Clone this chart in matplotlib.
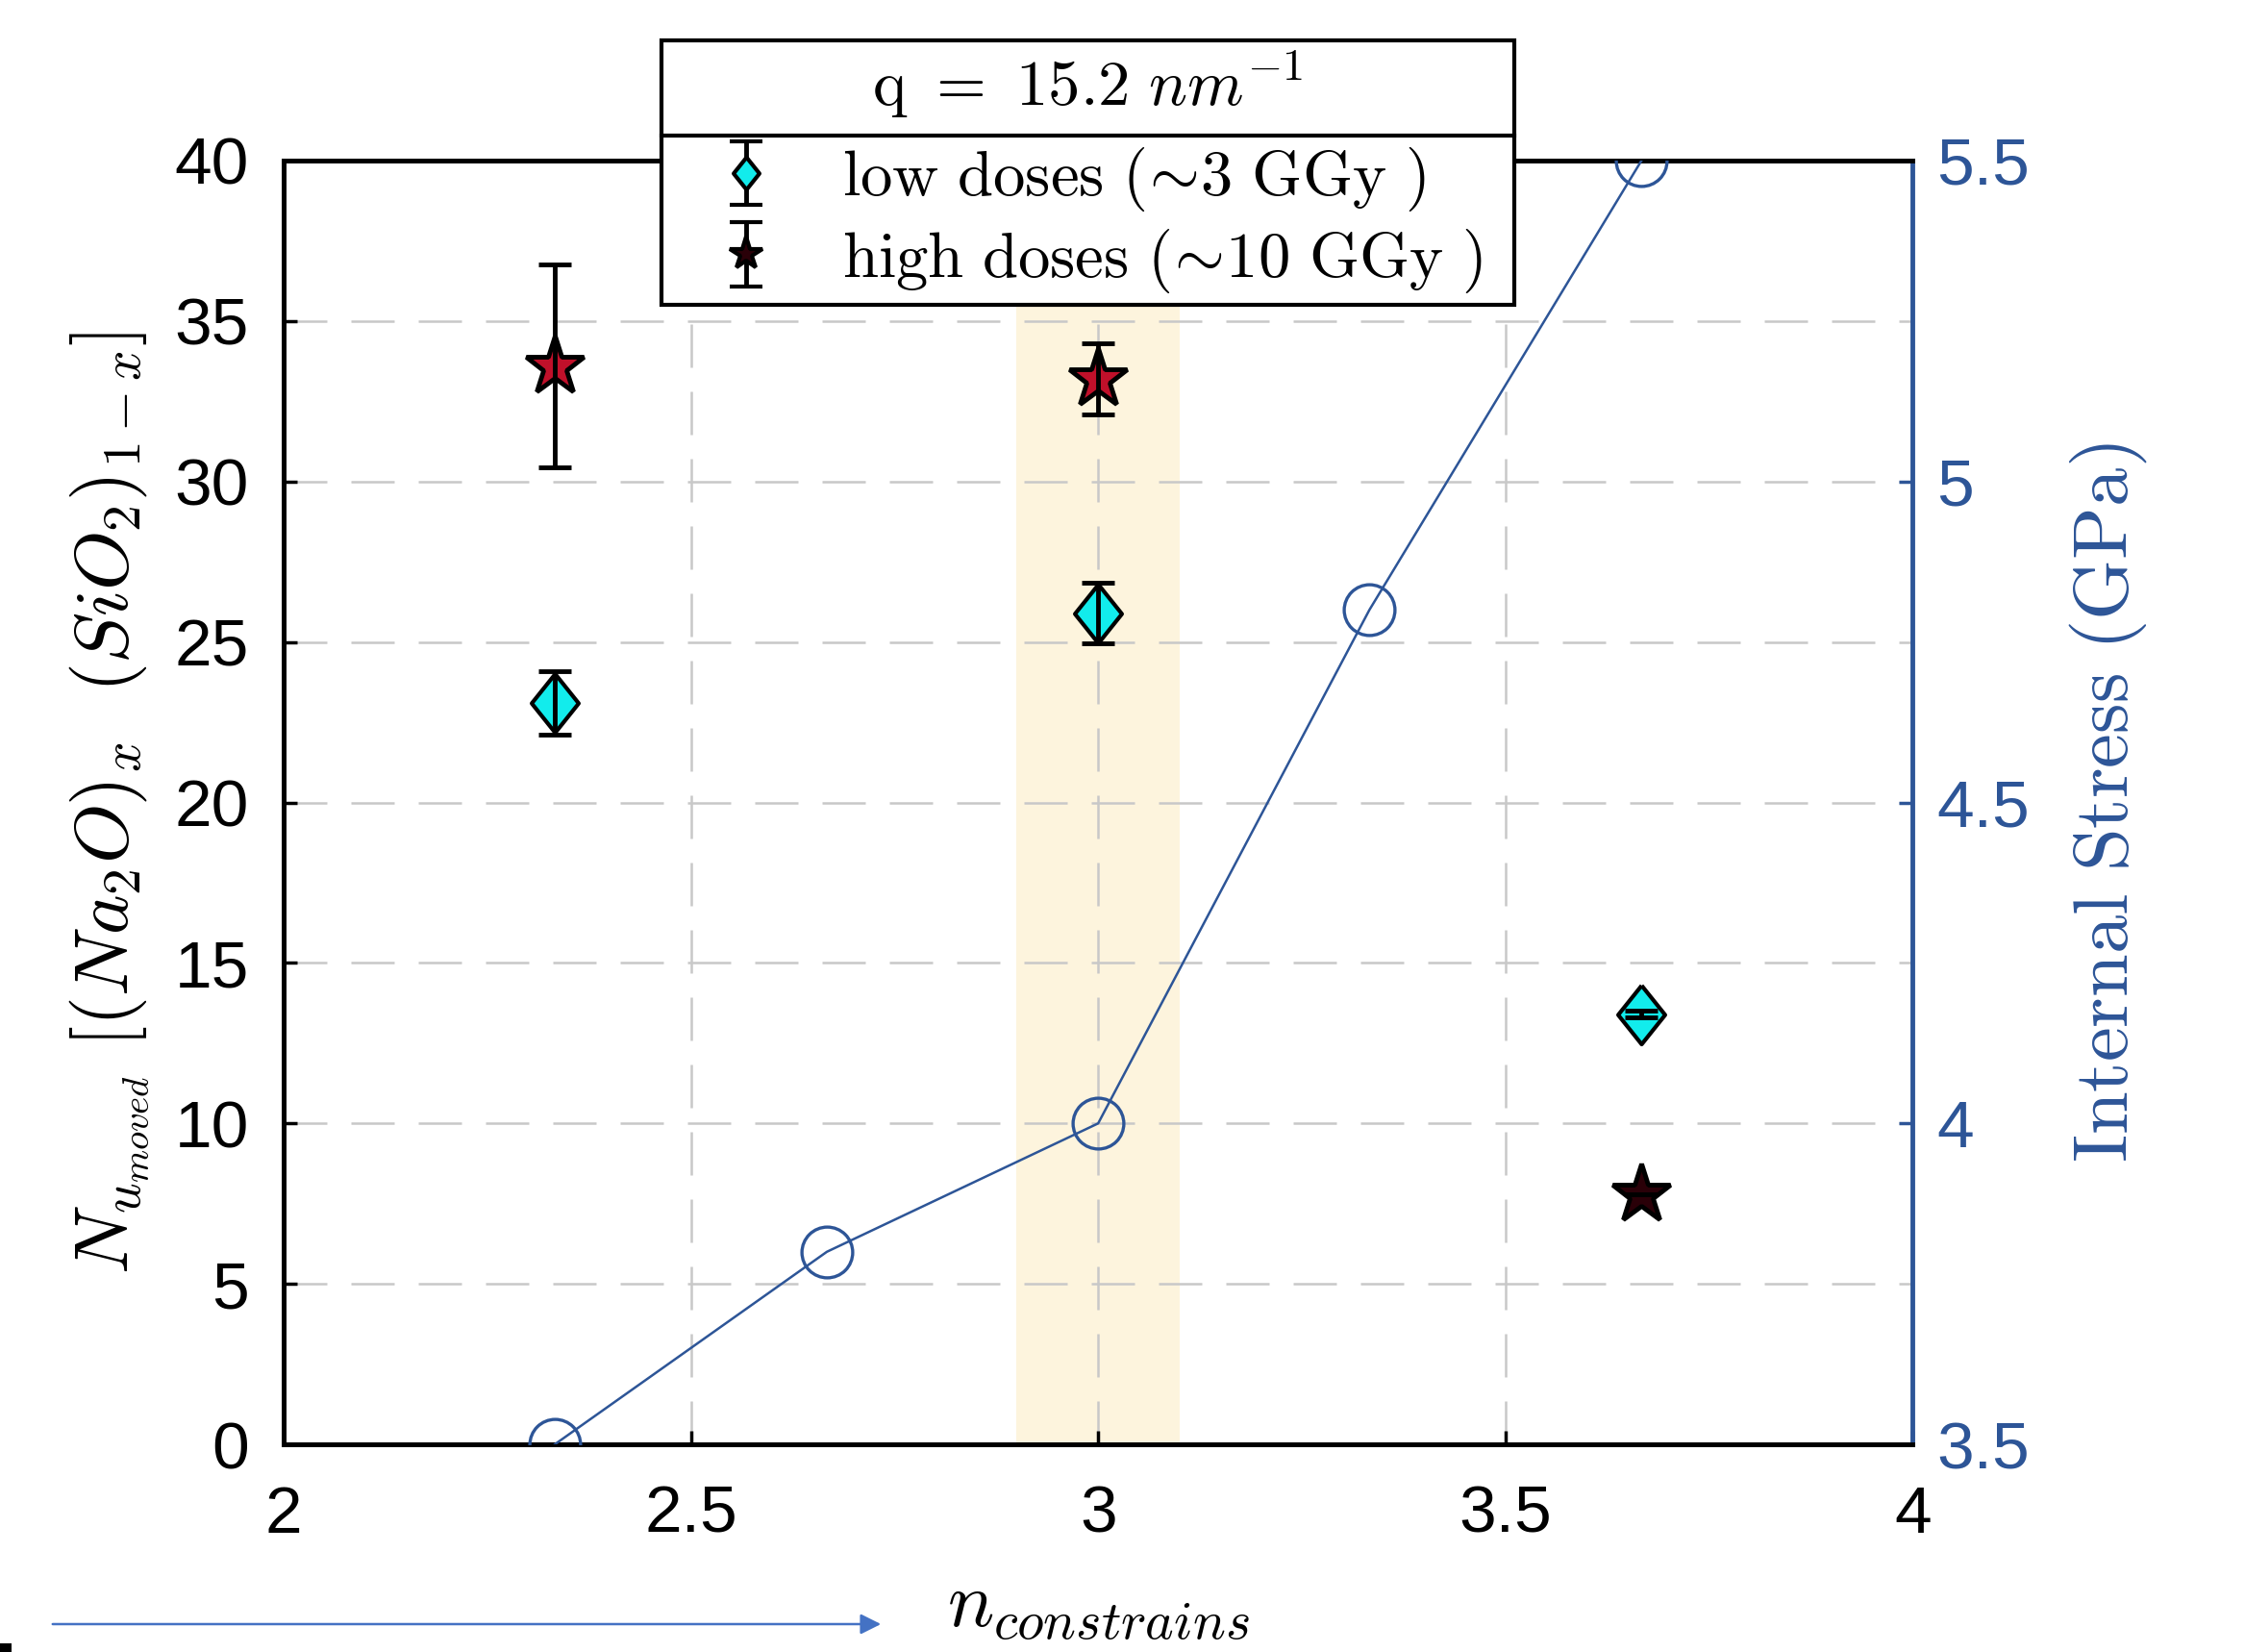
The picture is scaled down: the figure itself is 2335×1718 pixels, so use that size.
import matplotlib
matplotlib.use("Agg")
import matplotlib.pyplot as plt
from matplotlib.patches import Rectangle, FancyArrowPatch
from matplotlib.lines import Line2D

plt.rcParams["mathtext.fontset"] = "cm"
plt.rcParams["font.family"] = ["Liberation Sans", "DejaVu Sans"]

# data
n_low = [2.333, 3.0, 3.667]
low_vals = [23.1, 25.9, 13.4]
low_err = [1.0, 0.95, 0.1]

n_high = [2.333, 3.0, 3.667]
high_vals = [33.6, 33.2, 7.8]
high_err = [3.15, 1.1, 0.0]
high_colors = ["#c0102a", "#c0102a", "#2a0008"]

n_stress = [2.333, 2.667, 3.0, 3.333, 3.667]
stress = [3.5, 3.8, 4.0, 4.8, 5.5]

blue = "#2d5597"
fs = 50

fig = plt.figure(figsize=(23.35, 17.18), dpi=100)
ax = fig.add_axes([0.1263, 0.1257, 0.7257, 0.7771])
ax2 = ax.twinx()

ax.set_xlim(2, 4)
ax.set_ylim(0, 40)
ax2.set_ylim(3.5, 5.5)

# shaded band around n = 3
ax.axvspan(2.9, 3.1, color="#fdf4dd", zorder=0, lw=0)

# grid
for x in [2.5, 3.0, 3.5]:
    ax.axvline(x, color="#c8c8c8", lw=1.8, ls=(0, (18, 10)), zorder=0.5)
for y in range(5, 40, 5):
    ax.axhline(y, color="#c8c8c8", lw=1.8, ls=(0, (18, 10)), zorder=0.5)

diamond = [(0, 1), (0.8, 0), (0, -1), (-0.8, 0), (0, 1)]
eb_style = dict(ecolor="black", elinewidth=3.5, capsize=12, capthick=3.5)

low = ax.errorbar(n_low, low_vals, yerr=low_err, fmt="none", zorder=4, **eb_style)
ax.plot(n_low, low_vals, ls="none", marker=diamond, ms=44, mfc="#12ecec",
        mec="black", mew=3, zorder=3)

high = ax.errorbar(n_high, high_vals, yerr=high_err, fmt="none", zorder=4, **eb_style)
for x, y, c in zip(n_high, high_vals, high_colors):
    ax.plot(x, y, ls="none", marker="*", ms=46, mfc=c, mec="black", mew=3.5, zorder=3)

ax2.plot(n_stress, stress, color=blue, lw=1.8, marker="o", ms=38,
         mfc="none", mec=blue, mew=2.4, zorder=3)

# axes styling
ax.set_xticks([2, 2.5, 3, 3.5, 4])
ax.set_xticklabels(["2", "2.5", "3", "3.5", "4"])
ax.set_yticks(range(0, 45, 5))
ax.tick_params(axis="both", direction="in", length=10, width=2.5, labelsize=fs,
               colors="black")
ax.tick_params(axis="y", pad=26)
ax.tick_params(axis="x", pad=30)
ax2.set_yticks([3.5, 4, 4.5, 5, 5.5])
ax2.set_yticklabels(["3.5", "4", "4.5", "5", "5.5"])
ax2.tick_params(axis="y", direction="in", length=10, width=2.5, labelsize=fs,
                colors=blue, pad=18)

for s in ["left", "top", "bottom"]:
    ax.spines[s].set_linewidth(3.5)
    ax2.spines[s].set_linewidth(3.5)
ax2.spines["right"].set_color(blue)
ax2.spines["right"].set_linewidth(3.5)
ax.spines["right"].set_visible(False)

ax.set_ylabel(r"$N_{u_{moved}}\ [(Na_2O)_x\ \ (SiO_2)_{1-x}]$", fontsize=57, labelpad=17)
ax.set_xlabel(r"$n_{constrains}$", fontsize=58, labelpad=18)
ax2.set_ylabel(r"$\mathrm{Internal\ Stress\ (GPa)}$", fontsize=58, color=blue, labelpad=28)

# legend box with a title cell
x0, x1 = 0.2946, 0.6745
y_top, y_mid, y_bot = 0.9756, 0.918, 0.8155
fig.patches.append(Rectangle((x0, y_bot), x1 - x0, y_top - y_bot, transform=fig.transFigure,
                             facecolor="white", edgecolor="black", lw=3, zorder=4))
fig.lines.append(Line2D([x0, x1], [y_mid, y_mid], transform=fig.transFigure,
                        color="black", lw=3, zorder=5))
fig.text((x0 + x1) / 2, (y_top + y_mid) / 2 + 0.002, r"$\mathrm{q}\ =\ 15.2\ nm^{-1}$",
         ha="center", va="center", fontsize=48, zorder=6)

nan = float("nan")
h_low = ax.errorbar([nan], [nan], yerr=[1], marker=diamond, ls="none", ms=44, mfc="#12ecec",
                    mec="black", mew=3, **eb_style)
h_high = ax.errorbar([nan], [nan], yerr=[1], marker="*", ls="none", ms=46, mfc="#2a0008",
                     mec="black", mew=3, **eb_style)
leg = fig.legend([h_low, h_high],
                 [r"$\mathrm{low\ doses\ (\!\sim\!3\ GGy\ )}$",
                  r"$\mathrm{high\ doses\ (\!\sim\!10\ GGy\ )}$"],
                 loc="center left", bbox_to_anchor=(x0 + 0.012, (y_mid + y_bot) / 2),
                 frameon=False, fontsize=48, markerscale=0.55, handlelength=1.0,
                 handletextpad=1.0, labelspacing=0.2, borderaxespad=0)
leg.set_zorder(6)

# blue arrow and stray mark at the bottom
fig.patches.append(FancyArrowPatch((52 / 2335, 1 - 1689 / 1718), (919 / 2335, 1 - 1689 / 1718),
                                   transform=fig.transFigure, arrowstyle="-|>",
                                   mutation_scale=32, color="#4472c4", lw=1.8))
fig.patches.append(Rectangle((0, 0), 12 / 2335, 9 / 1718, transform=fig.transFigure,
                             facecolor="black", edgecolor="none"))

fig.savefig("out.png", dpi=100)
